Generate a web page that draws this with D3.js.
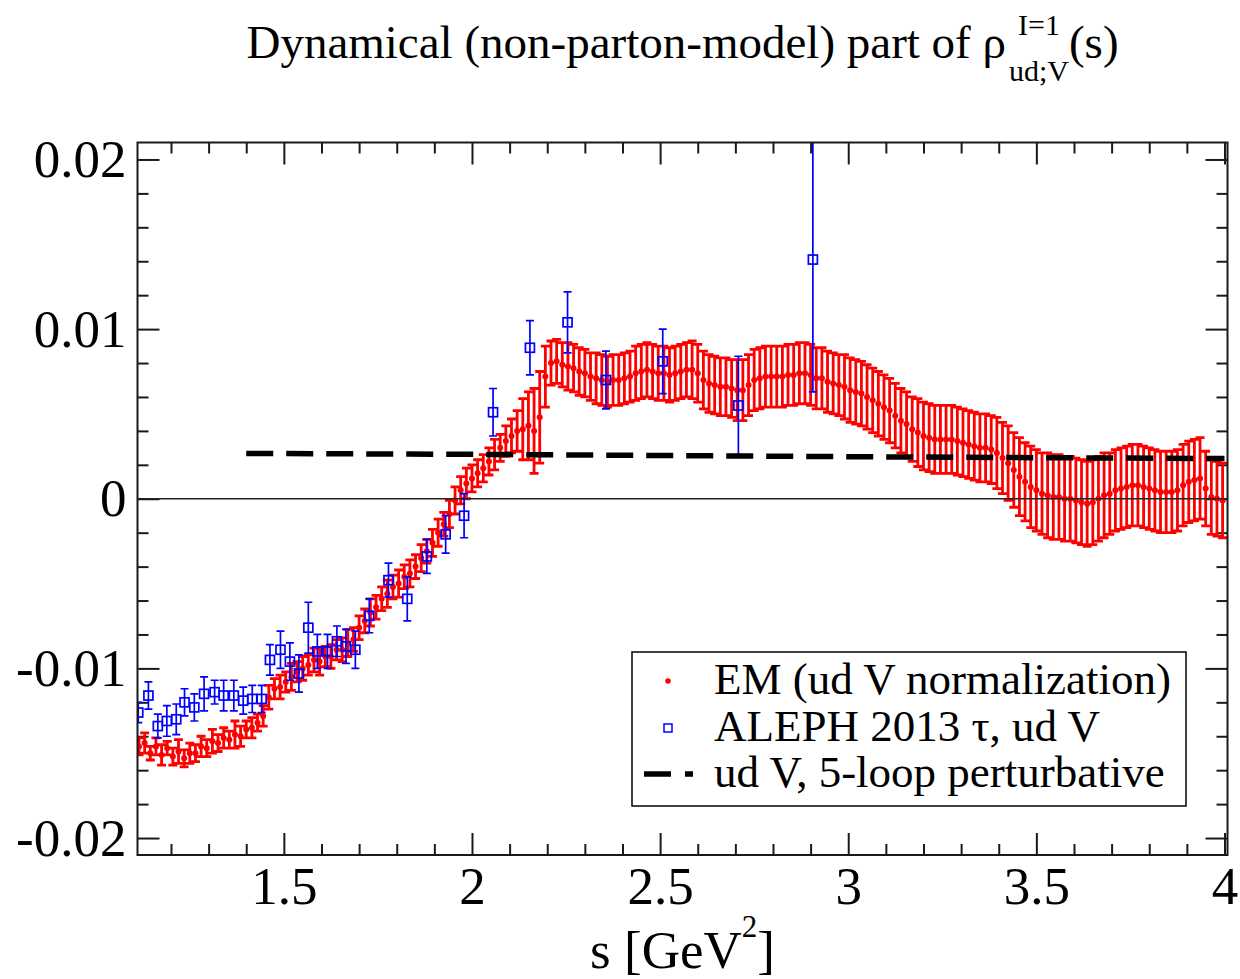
<!DOCTYPE html>
<html>
<head>
<meta charset="utf-8">
<script src="https://cdn.jsdelivr.net/npm/d3@7"></script>
<style>
  html, body { margin: 0; padding: 0; background: #fff; }
  svg { display: block; }
  svg text { font-family: "Liberation Serif", "Times New Roman", serif; }
</style>
</head>
<body>
<svg id="chart" width="1240" height="979"></svg>
<script>
// ---- axis ranges and tick labels ----
const xDomain = [1.111, 4.008];
const yDomain = [-0.021, 0.021];
const xMajor = [1.5, 2, 2.5, 3, 3.5, 4];
const xMajorLabels = ["1.5", "2", "2.5", "3", "3.5", "4"];
const xMinor = [1.2, 1.3, 1.4, 1.6, 1.7, 1.8, 1.9, 2.1, 2.2, 2.3, 2.4, 2.6, 2.7, 2.8, 2.9,
                3.1, 3.2, 3.3, 3.4, 3.6, 3.7, 3.8, 3.9];
const yMajor = [-0.02, -0.01, 0, 0.01, 0.02];
const yMajorLabels = ["-0.02", "-0.01", "0", "0.01", "0.02"];
const yMinor = [-0.018, -0.016, -0.014, -0.012, -0.008, -0.006, -0.004, -0.002,
                0.002, 0.004, 0.006, 0.008, 0.012, 0.014, 0.016, 0.018];

// ---- EM (ud V normalization): s, central value, error ----
const emS = [
  1.115,1.130,1.145,1.160,1.175,1.190,1.205,1.220,1.235,1.250,
  1.265,1.280,1.295,1.310,1.325,1.340,1.355,1.370,1.385,1.400,
  1.415,1.430,1.445,1.460,1.475,1.490,1.505,1.520,1.535,1.550,
  1.565,1.580,1.595,1.610,1.625,1.640,1.655,1.670,1.685,1.700,
  1.715,1.730,1.745,1.760,1.775,1.790,1.805,1.820,1.835,1.850,
  1.865,1.880,1.895,1.910,1.925,1.940,1.955,1.970,1.985,2.000,
  2.015,2.030,2.045,2.060,2.075,2.090,2.105,2.120,2.135,2.150,
  2.165,2.180,2.195,2.210,2.225,2.240,2.255,2.270,2.285,2.300,
  2.315,2.330,2.345,2.360,2.375,2.390,2.405,2.420,2.435,2.450,
  2.465,2.480,2.495,2.510,2.525,2.540,2.555,2.570,2.585,2.600,
  2.615,2.630,2.645,2.660,2.675,2.690,2.705,2.720,2.735,2.750,
  2.765,2.780,2.795,2.810,2.825,2.840,2.855,2.870,2.885,2.900,
  2.915,2.930,2.945,2.960,2.975,2.990,3.005,3.020,3.035,3.050,
  3.065,3.080,3.095,3.110,3.125,3.140,3.155,3.170,3.185,3.200,
  3.215,3.230,3.245,3.260,3.275,3.290,3.305,3.320,3.335,3.350,
  3.365,3.380,3.395,3.410,3.425,3.440,3.455,3.470,3.485,3.500,
  3.515,3.530,3.545,3.560,3.575,3.590,3.605,3.620,3.635,3.650,
  3.665,3.680,3.695,3.710,3.725,3.740,3.755,3.770,3.785,3.800,
  3.815,3.830,3.845,3.860,3.875,3.890,3.905,3.920,3.935,3.950,
  3.965,3.980,3.995
];
const emV = [
  -0.0146,-0.0144,-0.0150,-0.0146,-0.0151,-0.0147,-0.0152,-0.0149,-0.0153,-0.0150,
  -0.0150,-0.0146,-0.0147,-0.0143,-0.0144,-0.0141,-0.0142,-0.0139,-0.0140,-0.0136,
  -0.0135,-0.0132,-0.0128,-0.0117,-0.0112,-0.0111,-0.0108,-0.0105,-0.0102,-0.0100,
  -0.0098,-0.0095,-0.0096,-0.0093,-0.0093,-0.0089,-0.0089,-0.0085,-0.0083,-0.0076,
  -0.0072,-0.0067,-0.0064,-0.0059,-0.0056,-0.0052,-0.0050,-0.0046,-0.0044,-0.0040,
  -0.0035,-0.0031,-0.0026,-0.0020,-0.0015,-0.0009,-0.0001,0.0005,0.0009,0.0012,
  0.0015,0.0018,0.0022,0.0026,0.0030,0.0034,0.0037,0.0040,0.0041,0.0043,
  0.0040,0.0048,0.0072,0.0080,0.0081,0.0079,0.0078,0.0077,0.0075,0.0074,
  0.0072,0.0071,0.0070,0.0069,0.0070,0.0070,0.0071,0.0072,0.0074,0.0075,
  0.0076,0.0075,0.0074,0.0074,0.0073,0.0074,0.0075,0.0076,0.0076,0.0074,
  0.0070,0.0068,0.0067,0.0066,0.0066,0.0065,0.0064,0.0064,0.0067,0.0070,
  0.0071,0.0072,0.0072,0.0072,0.0072,0.0073,0.0073,0.0074,0.0074,0.0073,
  0.0071,0.0071,0.0069,0.0068,0.0067,0.0066,0.0064,0.0063,0.0062,0.0060,
  0.0058,0.0056,0.0054,0.0052,0.0049,0.0046,0.0044,0.0041,0.0039,0.0037,
  0.0036,0.0035,0.0035,0.0035,0.0035,0.0034,0.0033,0.0032,0.0031,0.0030,
  0.0030,0.0029,0.0027,0.0024,0.0021,0.0017,0.0013,0.0010,0.0007,0.0005,
  0.0003,0.0002,0.0001,0.0001,0.0000,0.0000,-0.0001,-0.0002,-0.0003,-0.0002,
  0.0000,0.0002,0.0003,0.0005,0.0006,0.0007,0.0008,0.0008,0.0007,0.0006,
  0.0005,0.0004,0.0004,0.0004,0.0005,0.0008,0.0010,0.0011,0.0012,0.0006,
  0.0001,0.0000,-0.0001
];
const emE = [
  0.0005,0.0006,0.0004,0.0005,0.0006,0.0004,0.0005,0.0007,0.0005,0.0006,
  0.0005,0.0006,0.0005,0.0007,0.0005,0.0006,0.0005,0.0008,0.0006,0.0005,
  0.0006,0.0005,0.0006,0.0007,0.0006,0.0007,0.0006,0.0008,0.0006,0.0007,
  0.0006,0.0007,0.0008,0.0006,0.0007,0.0006,0.0007,0.0008,0.0007,0.0007,
  0.0007,0.0008,0.0007,0.0007,0.0008,0.0007,0.0008,0.0007,0.0008,0.0007,
  0.0008,0.0007,0.0008,0.0008,0.0007,0.0008,0.0008,0.0008,0.0009,0.0008,
  0.0008,0.0008,0.0008,0.0009,0.0008,0.0009,0.0010,0.0012,0.0018,0.0020,
  0.0025,0.0027,0.0018,0.0013,0.0013,0.0013,0.0014,0.0014,0.0014,0.0014,
  0.0014,0.0015,0.0015,0.0015,0.0015,0.0015,0.0015,0.0015,0.0016,0.0016,
  0.0016,0.0016,0.0016,0.0016,0.0016,0.0016,0.0016,0.0016,0.0017,0.0017,
  0.0017,0.0017,0.0017,0.0017,0.0017,0.0017,0.0018,0.0018,0.0018,0.0018,
  0.0018,0.0018,0.0018,0.0018,0.0018,0.0018,0.0018,0.0018,0.0018,0.0018,
  0.0018,0.0018,0.0018,0.0018,0.0018,0.0019,0.0019,0.0019,0.0019,0.0019,
  0.0019,0.0019,0.0019,0.0019,0.0019,0.0019,0.0019,0.0019,0.0020,0.0020,
  0.0020,0.0020,0.0020,0.0020,0.0020,0.0020,0.0020,0.0020,0.0020,0.0020,
  0.0020,0.0020,0.0021,0.0021,0.0022,0.0022,0.0023,0.0023,0.0024,0.0024,
  0.0024,0.0025,0.0025,0.0025,0.0025,0.0025,0.0025,0.0025,0.0025,0.0025,
  0.0025,0.0025,0.0024,0.0024,0.0024,0.0024,0.0024,0.0024,0.0024,0.0024,
  0.0024,0.0024,0.0024,0.0024,0.0024,0.0024,0.0024,0.0024,0.0024,0.0022,
  0.0022,0.0022,0.0022
];

// ---- ALEPH 2013 tau, ud V ----
const alephS = [1.113,1.140,1.165,1.189,1.214,1.236,1.262,1.288,1.316,1.340,
                1.367,1.392,1.416,1.441,1.463,1.491,1.516,1.540,1.565,1.589,
                1.616,1.641,1.665,1.690,1.727,1.778,1.828,1.880,1.930,1.979,
                2.056,2.154,2.254,2.356,2.507,2.708,2.906];
const alephV = [-0.0126,-0.0116,-0.0134,-0.0131,-0.0130,-0.0120,-0.0123,-0.0115,-0.0114,-0.0116,
                -0.0116,-0.0119,-0.0118,-0.0118,-0.0095,-0.0089,-0.0096,-0.0103,-0.0076,-0.0090,
                -0.0090,-0.0084,-0.0087,-0.0089,-0.0069,-0.0048,-0.0059,-0.0034,-0.0021,-0.0010,
                0.0051,0.0089,0.0104,0.0070,0.0081,0.0055,0.0141];
const alephE = [0.0006,0.0008,0.0007,0.0009,0.0009,0.0008,0.0008,0.0010,0.0007,0.0009,
                0.0009,0.0008,0.0008,0.0008,0.0009,0.0011,0.0011,0.0011,0.0015,0.0010,
                0.0010,0.0009,0.0010,0.0011,0.0010,0.0010,0.0013,0.0010,0.0011,0.0013,
                0.0014,0.0016,0.0018,0.0017,0.0019,0.0029,0.0078];

// ---- ud V, 5-loop perturbative ----
const pertS = [1.40, 2.00, 2.50, 3.00, 3.50, 4.00];
const pertV = [0.00267, 0.00262, 0.00255, 0.00248, 0.00242, 0.00237];

const legendLabels = ["EM (ud V normalization)", "ALEPH 2013 \u03c4, ud V", "ud V, 5-loop perturbative"];

// ---- layout ----
const SERIF = "Liberation Serif, Times New Roman, serif";
const svg = d3.select("#chart");
const plot = { left: 137.5, right: 1227.5, top: 142.5, bottom: 855 };
const x = d3.scaleLinear().domain(xDomain).range([plot.left, plot.right]);
const y = d3.scaleLinear().domain(yDomain).range([plot.bottom, plot.top]);
const RED = "#ff0000", BLUE = "#0000ff", INK = "#1a1a1a";

svg.append("defs").append("clipPath").attr("id", "plotClip")
  .append("rect")
  .attr("x", plot.left).attr("y", plot.top)
  .attr("width", plot.right - plot.left).attr("height", plot.bottom - plot.top);

// ---- axes: inward ticks on all four sides ----
function styleAxis(g, fontSize) {
  g.attr("font-family", SERIF);
  g.select(".domain").remove();
  g.selectAll(".tick line").attr("stroke", INK).attr("stroke-width", 2);
  g.selectAll(".tick text").attr("fill", "#000").attr("font-size", fontSize)
    .attr("font-family", SERIF);
}
const tickFont = 53;

svg.append("g").attr("transform", `translate(0,${plot.bottom})`)
  .call(d3.axisBottom(x).tickValues(xMajor).tickSizeInner(-22).tickSizeOuter(0).tickPadding(11)
    .tickFormat((d, i) => xMajorLabels[i]))
  .call(g => styleAxis(g, tickFont));
svg.append("g").attr("transform", `translate(0,${plot.bottom})`)
  .call(d3.axisBottom(x).tickValues(xMinor).tickSizeInner(-11).tickSizeOuter(0).tickFormat(""))
  .call(g => styleAxis(g, tickFont));
svg.append("g").attr("transform", `translate(0,${plot.top})`)
  .call(d3.axisTop(x).tickValues(xMajor).tickSizeInner(-22).tickSizeOuter(0).tickFormat(""))
  .call(g => styleAxis(g, tickFont));
svg.append("g").attr("transform", `translate(0,${plot.top})`)
  .call(d3.axisTop(x).tickValues(xMinor).tickSizeInner(-11).tickSizeOuter(0).tickFormat(""))
  .call(g => styleAxis(g, tickFont));

svg.append("g").attr("transform", `translate(${plot.left},0)`)
  .call(d3.axisLeft(y).tickValues(yMajor).tickSizeInner(-22).tickSizeOuter(0).tickPadding(11)
    .tickFormat((d, i) => yMajorLabels[i]))
  .call(g => styleAxis(g, tickFont));
svg.append("g").attr("transform", `translate(${plot.left},0)`)
  .call(d3.axisLeft(y).tickValues(yMinor).tickSizeInner(-11).tickSizeOuter(0).tickFormat(""))
  .call(g => styleAxis(g, tickFont));
svg.append("g").attr("transform", `translate(${plot.right},0)`)
  .call(d3.axisRight(y).tickValues(yMajor).tickSizeInner(-22).tickSizeOuter(0).tickFormat(""))
  .call(g => styleAxis(g, tickFont));
svg.append("g").attr("transform", `translate(${plot.right},0)`)
  .call(d3.axisRight(y).tickValues(yMinor).tickSizeInner(-11).tickSizeOuter(0).tickFormat(""))
  .call(g => styleAxis(g, tickFont));

// ---- data layer ----
const data = svg.append("g").attr("clip-path", "url(#plotClip)");

function errorBarPath(sArr, vArr, eArr, cap) {
  const p = d3.path();
  sArr.forEach((s, i) => {
    const cx = x(s), y1 = y(vArr[i] - eArr[i]), y2 = y(vArr[i] + eArr[i]);
    p.moveTo(cx, y1); p.lineTo(cx, y2);
    p.moveTo(cx - cap, y1); p.lineTo(cx + cap, y1);
    p.moveTo(cx - cap, y2); p.lineTo(cx + cap, y2);
  });
  return p.toString();
}

// EM spectral data
data.append("path")
  .attr("d", errorBarPath(emS, emV, emE, 4.5))
  .attr("fill", "none").attr("stroke", RED).attr("stroke-width", 2.8);
data.append("g").selectAll("circle")
  .data(emS.map((s, i) => [s, emV[i]]))
  .join("circle")
  .attr("cx", d => x(d[0])).attr("cy", d => y(d[1])).attr("r", 3)
  .attr("fill", RED);

// zero line
data.append("line")
  .attr("x1", plot.left).attr("x2", plot.right)
  .attr("y1", y(0)).attr("y2", y(0))
  .attr("stroke", "#222").attr("stroke-width", 1.5);

// ALEPH points
data.append("path")
  .attr("d", errorBarPath(alephS, alephV, alephE, 4))
  .attr("fill", "none").attr("stroke", BLUE).attr("stroke-width", 1.7);
data.append("g").selectAll("rect")
  .data(alephS.map((s, i) => [s, alephV[i]]))
  .join("rect")
  .attr("x", d => x(d[0]) - 4.5).attr("y", d => y(d[1]) - 4.5)
  .attr("width", 9).attr("height", 9)
  .attr("fill", "none").attr("stroke", BLUE).attr("stroke-width", 1.7);

// perturbative curve
data.append("path")
  .attr("d", d3.line().x(d => x(d[0])).y(d => y(d[1]))(pertS.map((s, i) => [s, pertV[i]])))
  .attr("fill", "none").attr("stroke", "#000").attr("stroke-width", 5.5)
  .attr("stroke-dasharray", "27,13");

// frame
svg.append("rect")
  .attr("x", plot.left).attr("y", plot.top)
  .attr("width", plot.right - plot.left).attr("height", plot.bottom - plot.top)
  .attr("fill", "none").attr("stroke", INK).attr("stroke-width", 2);

// ---- legend ----
const lg = svg.append("g");
lg.append("rect").attr("x", 632).attr("y", 652).attr("width", 554).attr("height", 154)
  .attr("fill", "#fff").attr("stroke", "#000").attr("stroke-width", 1.5);
const rowY = [694, 741, 787];
lg.append("circle").attr("cx", 668).attr("cy", rowY[0] - 13).attr("r", 2.8).attr("fill", RED);
lg.append("rect").attr("x", 664).attr("y", rowY[1] - 17).attr("width", 8).attr("height", 8)
  .attr("fill", "none").attr("stroke", BLUE).attr("stroke-width", 1.5);
lg.append("line").attr("x1", 644).attr("x2", 693).attr("y1", rowY[2] - 13).attr("y2", rowY[2] - 13)
  .attr("stroke", "#000").attr("stroke-width", 5.5).attr("stroke-dasharray", "27,14");
lg.selectAll("text.lab").data(legendLabels).join("text").attr("class", "lab")
  .attr("x", 714).attr("y", (d, i) => rowY[i])
  .attr("font-family", SERIF).attr("font-size", 45).attr("fill", "#000").text(d => d);

// ---- labels with stacked super/subscripts ----
function scriptLabel(parts, cx) {
  const nodes = parts.map(p => svg.append("text")
    .attr("font-family", SERIF)
    .attr("font-size", p.size).attr("y", p.y).attr("fill", "#000").text(p.text));
  const widths = nodes.map(n => n.node().getComputedTextLength());
  let total = 0;
  const cols = [];
  parts.forEach((p, i) => {
    if (p.stackWith !== undefined) return;
    let w = widths[i];
    if (p.partner !== undefined) w = Math.max(w, widths[p.partner]);
    cols.push({ i, w: w + (p.gap || 0) });
    total += w + (p.gap || 0);
  });
  let cur = cx - total / 2;
  cols.forEach(c => {
    nodes[c.i].attr("x", cur);
    const p = parts[c.i];
    if (p.partner !== undefined) {
      nodes[p.partner].attr("x", cur + (c.w - (p.gap || 0) - widths[p.partner]) / 2);
    }
    cur += c.w;
  });
}
const cxPlot = (plot.left + plot.right) / 2;
scriptLabel([
  { text: "Dynamical (non-parton-model) part of \u03c1", size: 47, y: 58, gap: 3 },
  { text: "ud;V", size: 30, y: 81, partner: 2 },
  { text: "I=1", size: 30, y: 35, stackWith: 1 },
  { text: "(s)", size: 47, y: 58 }
], cxPlot);

scriptLabel([
  { text: "s [GeV", size: 53, y: 968 },
  { text: "2", size: 31, y: 937 },
  { text: "]", size: 53, y: 968 }
], cxPlot);
</script>
</body>
</html>
